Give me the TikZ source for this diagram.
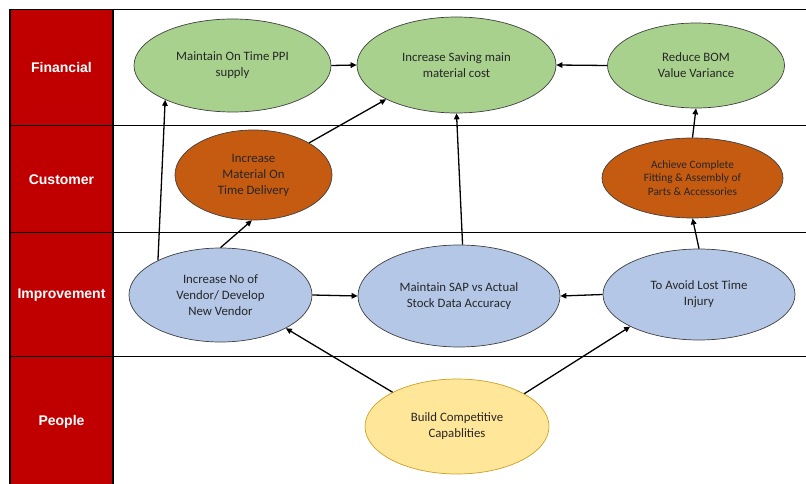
\documentclass[tikz,border=0pt]{standalone}
\usepackage{fontspec}
\setmainfont{Carlito}
\newfontfamily\labelfont{Liberation Sans}
\usetikzlibrary{shapes.geometric,arrows.meta}
\definecolor{redcol}{HTML}{C00000}
\definecolor{greenfill}{HTML}{A9D18E}
\definecolor{orangefill}{HTML}{C55A11}
\definecolor{bluefill}{HTML}{B4C7E7}
\definecolor{yellowfill}{HTML}{FFE699}
\definecolor{yellowline}{HTML}{C9A227}
\definecolor{txt}{HTML}{262626}
\begin{document}
\begin{tikzpicture}[x=1pt,y=-1pt,
  goal/.style={ellipse, draw=black!75, line width=0.7pt, inner sep=0pt, align=center,
     text=txt, font=\fontsize{12.8}{16}\selectfont},
  smallgoal/.style={goal, font=\fontsize{11.3}{13.5}\selectfont},
  rowlabel/.style={text=white, font=\labelfont\bfseries\fontsize{14}{16}\selectfont},
  grid/.style={line width=1.4pt, black},
  link/.style={line width=1.3pt, -{Triangle[length=6pt,width=5.5pt]}}]
\useasboundingbox (0,0) rectangle (806,484);
% table
\fill[redcol] (10,9.5) rectangle (113,484);
\draw[grid] (10,9.5) -- (806,9.5);
\draw[grid] (10,125.5) -- (806,125.5);
\draw[grid] (10,232.5) -- (806,232.5);
\draw[grid] (10,356.5) -- (806,356.5);
\draw[grid] (10,9.5) -- (10,484);
\draw[grid] (113,9.5) -- (113,484);
% row labels
\node[rowlabel] (fin) at (61.5,67.5) {Financial};
\node[rowlabel] (cus) at (61.5,180) {Customer};
\node[rowlabel] (imp) at (61.5,295) {Improvement};
\node[rowlabel] (peo) at (61.5,422) {People};
% goals
\node[goal, fill=greenfill, minimum width=197pt, minimum height=93pt] (ppi) at (232.5,65.5) {Maintain On Time PPI\\supply};
\node[goal, fill=greenfill, minimum width=199pt, minimum height=96pt] (sav) at (456.5,65) {Increase Saving main\\material cost};
\node[goal, fill=greenfill, minimum width=177pt, minimum height=85pt] (bom) at (696,65.5) {Reduce BOM\\Value Variance};
\node[goal, fill=orangefill, minimum width=157pt, minimum height=90pt] (del) at (253.5,175) {Increase\\Material On\\Time Delivery};
\node[smallgoal, fill=orangefill, minimum width=181pt, minimum height=80pt] (ach) at (692.5,178) {Achieve Complete\\Fitting \& Assembly of\\Parts \& Accessories};
\node[goal, fill=bluefill, minimum width=183pt, minimum height=94pt] (ven) at (220.5,295) {Increase No of\\Vendor/ Develop\\New Vendor};
\node[goal, fill=bluefill, minimum width=202pt, minimum height=102pt] (sap) at (459,296) {Maintain SAP vs Actual\\Stock Data Accuracy};
\node[goal, fill=bluefill, minimum width=192pt, minimum height=91pt] (lti) at (699,294.5) {To Avoid Lost Time\\Injury};
\node[goal, fill=yellowfill, draw=yellowline, minimum width=184pt, minimum height=95pt] (bcc) at (457,426.5) {Build Competitive\\Capablities};
% links
\draw[link] (ppi.east) -- (sav.west);
\draw[link] (bom.west) -- (sav.east);
\draw[link] (ven.151.5) -- (ppi.207.4);
\draw[link] (del.30) -- (sav.206.7);
\draw[link] (ven.90.6) -- (del.268);
\draw[link] (sap.86.6) -- (sav.270.6);
\draw[link] (ven.east) -- (sap.west);
\draw[link] (lti.west) -- (sap.east);
\draw[link] (lti.90) -- (ach.270);
\draw[link] (ach.90) -- (bom.270);
\draw[link] (bcc.152.7) -- (ven.333.6);
\draw[link] (bcc.26.9) -- (lti.205.9);
\end{tikzpicture}
\end{document}
